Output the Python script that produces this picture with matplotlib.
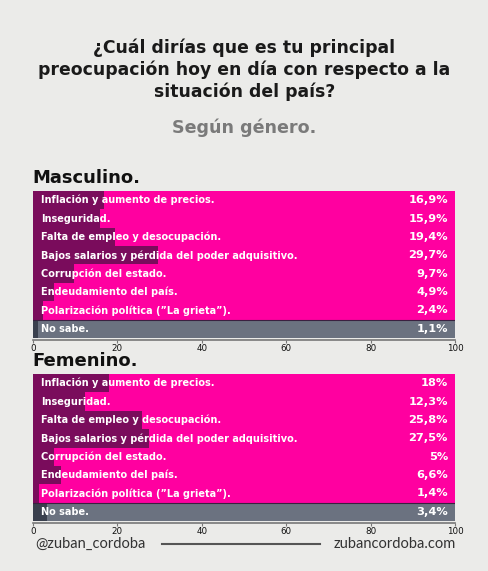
import matplotlib.pyplot as plt
from matplotlib import rcParams

rcParams['font.family'] = ['DejaVu Sans']

categorias = ['Inflación y aumento de precios.',
              'Inseguridad.',
              'Falta de empleo y desocupación.',
              'Bajos salarios y pérdida del poder adquisitivo.',
              'Corrupción del estado.',
              'Endeudamiento del país.',
              'Polarización política (”La grieta”).',
              'No sabe.']
masculino = [16.9, 15.9, 19.4, 29.7, 9.7, 4.9, 2.4, 1.1]
femenino = [18, 12.3, 25.8, 27.5, 5, 6.6, 1.4, 3.4]
etiq_masc = ['16,9%', '15,9%', '19,4%', '29,7%', '9,7%', '4,9%', '2,4%', '1,1%']
etiq_fem = ['18%', '12,3%', '25,8%', '27,5%', '5%', '6,6%', '1,4%', '3,4%']
ticks = [0, 20, 40, 60, 80, 100]

bg = '#ebebe9'
rosa = '#ff00a0'
oscuro = '#7a0c5c'
gris = '#6b7280'
gris_osc = '#3a404e'

fig = plt.figure(figsize=(4.89, 5.71), dpi=100)
fig.patch.set_facecolor(bg)

titulo = ['¿Cuál dirías que es tu principal',
          'preocupación hoy en día con respecto a la',
          'situación del país?']
for i, linea in enumerate(titulo):
    fig.text(0.5, 1 - (48 + 22*i)/571, linea, ha='center', va='center',
             fontsize=12.4, fontweight='bold', color='#1a1a1a')
fig.text(0.5, 1 - 128/571, 'Según género.', ha='center', va='center',
         fontsize=12.6, fontweight='bold', color='#7a7a7a')


def panel(top_px, valores, etiquetas, titulo):
    left = 33/489
    width = (455 - 33)/489
    h = 147/571
    ax = fig.add_axes([left, 1 - (top_px + 147)/571, width, h])
    ax.set_facecolor(bg)
    n = len(categorias)
    ys = list(range(n))
    fondo = [rosa]*(n-1) + [gris]
    frente = [oscuro]*(n-1) + [gris_osc]
    ax.barh(ys, [100]*n, height=1.0, color=fondo, left=0)
    ax.barh(ys, valores, height=1.0, color=frente, left=0)
    # linea fina entre las respuestas y "No sabe."
    ax.axhline(n - 1.5, color='#3a2040', lw=0.8)
    for y, cat, et in zip(ys, categorias, etiquetas):
        ax.text(2, y, cat, ha='left', va='center', color='white',
                fontsize=7.05, fontweight='bold')
        ax.text(98.3, y, et, ha='right', va='center', color='white',
                fontsize=8.2, fontweight='bold')
    ax.set_xlim(0, 100)
    ax.set_ylim(n - 0.5, -0.5)
    ax.set_yticks([])
    ax.set_xticks(ticks)
    ax.set_xticklabels([str(t) for t in ticks])
    ax.tick_params(axis='x', length=2.5, width=0.8, color='#777777', pad=0.5,
                   labelsize=6.3, labelcolor='#111111')
    for lab in ax.get_xticklabels():
        lab.set_fontweight('bold')
    for s in ['top', 'left', 'right']:
        ax.spines[s].set_visible(False)
    ax.spines['bottom'].set_color('#777777')
    ax.spines['bottom'].set_linewidth(1.2)
    ax.spines['bottom'].set_position(('outward', 1.5))
    fig.text(left - 0.002, 1 - (top_px - 13)/571, titulo, ha='left', va='center',
             fontsize=13, fontweight='bold', color='#111111')


panel(191, masculino, etiq_masc, 'Masculino.')
panel(374, femenino, etiq_fem, 'Femenino.')

fig.text(35/489, 1 - 544/571, '@zuban_cordoba', ha='left', va='center',
         fontsize=10.5, color='#333333', family='Lato')
fig.text(456/489, 1 - 544/571, 'zubancordoba.com', ha='right', va='center',
         fontsize=10.5, color='#333333', family='Lato')
fig.add_artist(plt.Line2D([162/489, 320/489], [1 - 544/571]*2, color='#555555', lw=1.5))

plt.savefig('out.png', dpi=100, facecolor=bg)
